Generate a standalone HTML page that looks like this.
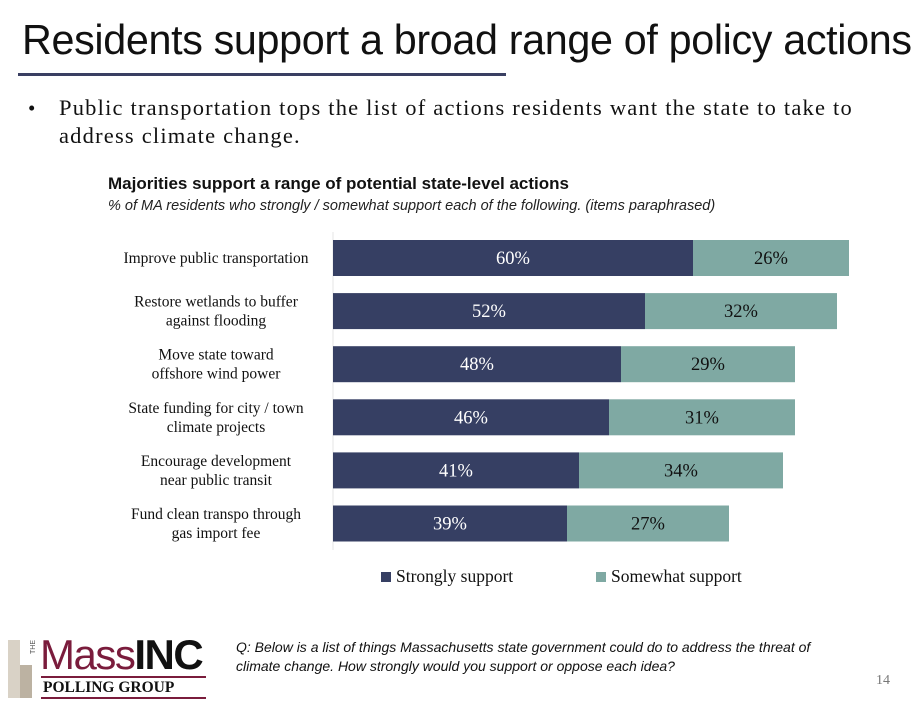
<!DOCTYPE html>
<html><head><meta charset="utf-8"><style>
body{margin:0;width:924px;height:704px;background:#fff;position:relative;overflow:hidden;font-family:"Liberation Serif",serif}
.a{position:absolute}
</style></head><body>
<div class="a" style="left:22px;top:17px;font:41.3px 'Liberation Sans',sans-serif;color:#111;letter-spacing:-0.35px;white-space:nowrap">Residents support a broad range of policy actions</div>
<div class="a" style="left:18px;top:73px;width:488px;height:3px;background:#3a3f62"></div>
<div class="a" style="left:28px;top:96px;font:21px 'Liberation Serif',serif;color:#111">•</div>
<div class="a" style="left:59px;top:94px;width:820px;font:22.5px/28px 'Liberation Serif',serif;letter-spacing:1.2px;color:#111">Public transportation tops the list of actions residents want the state to take to address climate change.</div>
<div class="a" style="left:108px;top:174px;font:bold 17px 'Liberation Sans',sans-serif;color:#111;white-space:nowrap">Majorities support a range of potential state-level actions</div>
<div class="a" style="left:108px;top:198px;font:italic 14.5px 'Liberation Sans',sans-serif;color:#222;white-space:nowrap">% of MA residents who strongly / somewhat support each of the following. (items paraphrased)</div>
<svg class="a" style="left:0;top:0" width="924" height="704" id="chart"></svg>
<div class="a" style="left:381px;top:566px;font:17.5px 'Liberation Serif',serif;color:#111"><span style="display:inline-block;width:10px;height:10px;background:#363f63;margin-right:5px"></span>Strongly support</div>
<div class="a" style="left:596px;top:566px;font:17.5px 'Liberation Serif',serif;color:#111"><span style="display:inline-block;width:10px;height:10px;background:#7fa9a3;margin-right:5px"></span>Somewhat support</div>
<div class="a" style="left:8px;top:640px;width:200px;height:60px">
 <div class="a" style="left:0;top:0;width:12px;height:58px;background:#d9d2c6"></div>
 <div class="a" style="left:12px;top:25px;width:12px;height:33px;background:#bcb2a2"></div>
 <div class="a" style="left:22px;top:0;font:7px 'Liberation Sans',sans-serif;color:#555;writing-mode:vertical-rl;transform:rotate(180deg)">THE</div>
 <div class="a" style="left:32px;top:-9px;font:42px 'Liberation Sans',sans-serif;color:#7a1c3c;letter-spacing:-1.5px;white-space:nowrap">Mass<b style="color:#111">INC</b></div>
 <div class="a" style="left:33px;top:36px;width:165px;height:2px;background:#7a1c3c"></div>
 <div class="a" style="left:35px;top:39px;font:bold 15.5px 'Liberation Serif',serif;color:#111;white-space:nowrap">POLLING GROUP</div>
 <div class="a" style="left:33px;top:57px;width:165px;height:2px;background:#7a1c3c"></div>
</div>
<div class="a" style="left:236px;top:638px;width:600px;font:italic 14px/19px 'Liberation Sans',sans-serif;color:#111">Q: Below is a list of things Massachusetts state government could do to address the threat of climate change. How strongly would you support or oppose each idea?</div>
<div class="a" style="left:876px;top:673px;font:14px 'Liberation Serif',serif;color:#777">14</div>
<script>
const categories=[["Improve public transportation"],["Restore wetlands to buffer","against flooding"],["Move state toward","offshore wind power"],["State funding for city / town","climate projects"],["Encourage development","near public transit"],["Fund clean transpo through","gas import fee"]];
const strongly=[60,52,48,46,41,39];
const somewhat=[26,32,29,31,34,27];
const svg=document.getElementById('chart');
const NS='http://www.w3.org/2000/svg';
const x0=333,scale=6.0;
const xs=v=>x0+v*scale;
const yc=i=>258+i*53.1;
const bh=36;
function mk(t,a){const e=document.createElementNS(NS,t);for(const k in a)e.setAttribute(k,a[k]);svg.appendChild(e);return e;}
const ax=mk('line',{x1:x0,x2:x0,y1:232,y2:550,stroke:'#e6e6e6','stroke-width':1});


categories.forEach((c,i)=>{
 const y=yc(i);
 const r1=mk('rect',{x:xs(0),y:y-bh/2,width:xs(strongly[i])-xs(0),height:bh,fill:'#363f63'});
 
 
 const r2=mk('rect',{x:xs(strongly[i]),y:y-bh/2,width:xs(strongly[i]+somewhat[i])-xs(strongly[i]),height:bh,fill:'#7fa9a3'});
 
 
 const t1=mk('text',{x:(xs(0)+xs(strongly[i]))/2,y:y+6,'text-anchor':'middle',fill:'#fff','font-size':18.5,'font-family':'Liberation Serif, serif'});
 t1.textContent=strongly[i]+'%';
 
 
 const t2=mk('text',{x:(xs(strongly[i])+xs(strongly[i]+somewhat[i]))/2,y:y+6,'text-anchor':'middle',fill:'#111','font-size':18.5,'font-family':'Liberation Serif, serif'});
 t2.textContent=somewhat[i]+'%';
 
 
 const lt=mk('text',{x:216,'text-anchor':'middle',fill:'#111','font-size':15.5,'font-family':'Liberation Serif, serif'});
 
 
 c.forEach((line,j)=>{const ts=document.createElementNS(NS,'tspan');ts.setAttribute('x',216);ts.setAttribute('y',y+5+(j-(c.length-1)/2)*19);ts.textContent=line;lt.appendChild(ts);});
});
</script>
</body></html>
